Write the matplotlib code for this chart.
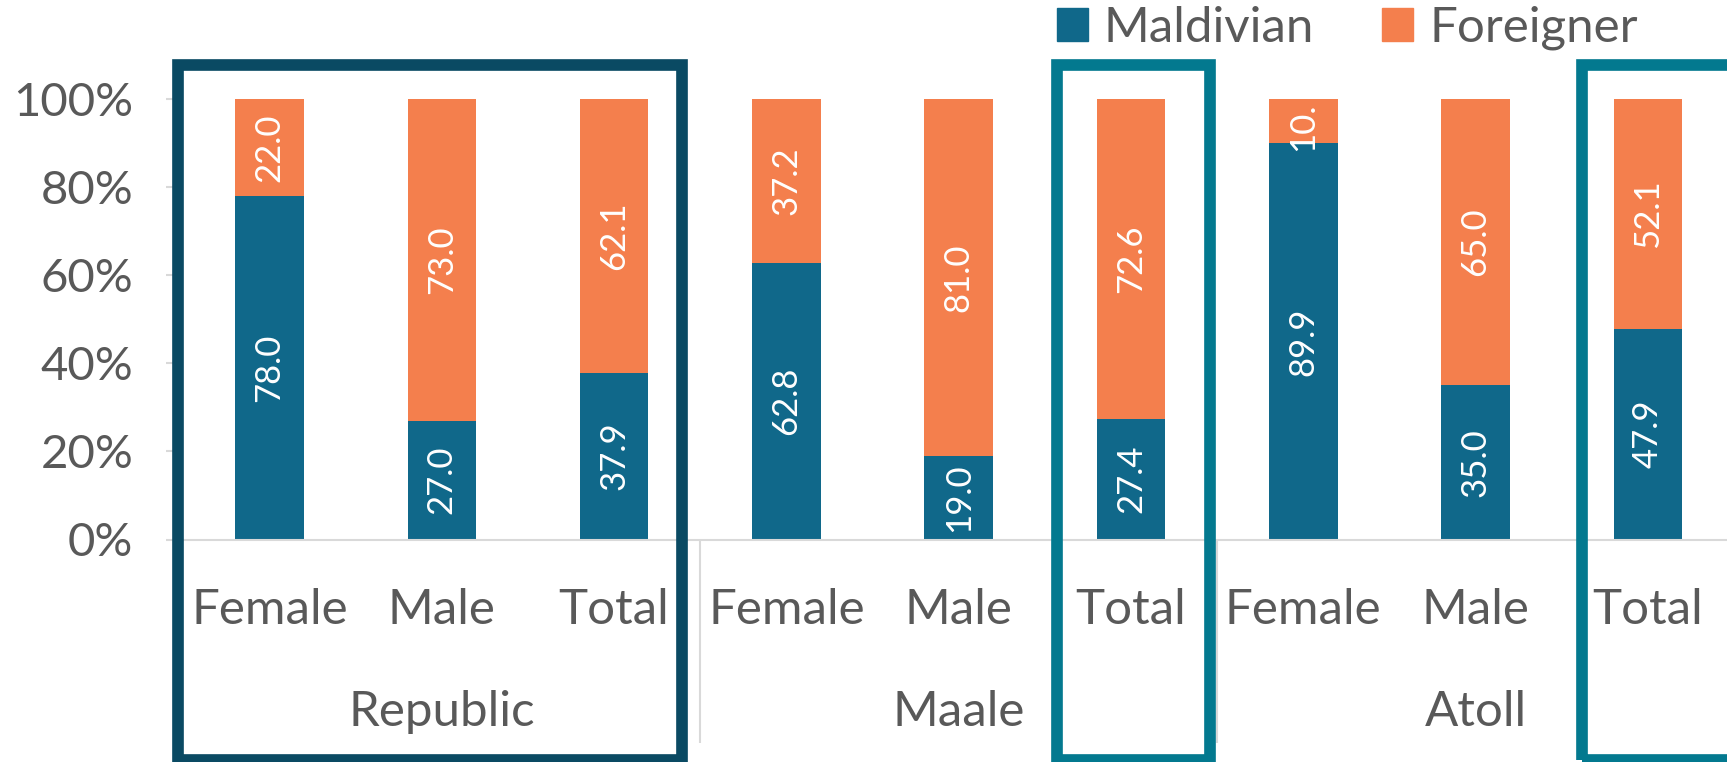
import matplotlib
matplotlib.use("Agg")
import matplotlib.pyplot as plt
from matplotlib.patches import Rectangle, Patch

plt.rcParams['font.family'] = ['Lato', 'DejaVu Sans']

# data
groups = ['Republic', 'Maale', 'Atoll']
categories = ['Female', 'Male', 'Total']
maldivian = [78.0, 27.0, 37.9, 62.8, 19.0, 27.4, 89.9, 35.0, 47.9]
foreigner = [22.0, 73.0, 62.1, 37.2, 81.0, 72.6, 10.1, 65.0, 52.1]

c_mal = '#10688A'
c_for = '#F47F4D'
c_dark = '#0A4A63'
c_teal = '#03798F'
c_text = '#595959'
c_axis = '#D9D9D9'
fs = 35.5

W, H = 1727, 762
fig = plt.figure(figsize=(W / 100, H / 100), dpi=100)
x0_px, y0_px, y100_px = 183.35, 539.5, 99.0
ax = fig.add_axes([x0_px / W, (H - y0_px) / H, (W - x0_px) / W, (y0_px - y100_px) / H])

x = list(range(len(maldivian)))
width = 0.397
ax.bar(x, maldivian, width=width, color=c_mal, label='Maldivian', zorder=2)
ax.bar(x, foreigner, width=width, bottom=maldivian, color=c_for, label='Foreigner', zorder=2)

# data labels, rotated like the original; tiny segments get cut like excel does
for i in x:
    m, f = maldivian[i], foreigner[i]
    ax.text(i, m / 2, f"{m:.1f}", rotation=90, ha='center', va='center',
            color='white', fontsize=25, zorder=3)
    if f < 15:
        ax.text(i, m + f - 0.7, f"{f:.1f}"[:3], rotation=90, ha='center', va='top',
                color='white', fontsize=25, zorder=3)
    else:
        ax.text(i, m + f / 2, f"{f:.1f}", rotation=90, ha='center', va='center',
                color='white', fontsize=25, zorder=3)

ax.set_xlim(-0.5, (W - 269.5) / 172.3)
ax.set_ylim(0, 100)
ax.set_yticks(range(0, 101, 20))
ax.set_yticklabels([f"{v}%" for v in range(0, 101, 20)])
ax.set_xticks(x)
ax.set_xticklabels(categories * len(groups))

for s in ['top', 'right', 'left']:
    ax.spines[s].set_visible(False)
ax.spines['bottom'].set_color(c_axis)
ax.spines['bottom'].set_linewidth(1.5)
ax.tick_params(axis='y', length=12, width=1.5, color=c_axis, pad=24, labelsize=34, labelcolor=c_text)
ax.tick_params(axis='x', length=0, pad=35, labelsize=fs, labelcolor=c_text)

# group labels and separators under the axis
for g, name in enumerate(groups):
    ax.text(3 * g + 1, -42.3, name, ha='center', va='baseline', fontsize=fs,
            color=c_text, clip_on=False)
ax.vlines([2.5, 5.5], -46.2, 0, color=c_axis, lw=1.5, clip_on=False)

# highlight boxes
boxes = [(-0.531, 2.394, c_dark), (4.569, 5.456, c_teal), (7.617, 8.56, c_teal)]
for left, right, col in boxes:
    ax.add_patch(Rectangle((left, -50.0), right - left, 157.7, fill=False,
                           edgecolor=col, lw=8.4, clip_on=False, zorder=4))

handles = [Patch(color=c_mal, label='Maldivian'), Patch(color=c_for, label='Foreigner')]
fig.legend(handles=handles, loc='center left', bbox_to_anchor=(1056.5 / W, 1 - 28 / H),
           ncol=2, frameon=False, fontsize=fs, labelcolor=c_text, borderpad=0,
           borderaxespad=0, handlelength=0.63, handleheight=0.63, handletextpad=0.33,
           columnspacing=1.38)

fig.savefig('out.png', dpi=100)
